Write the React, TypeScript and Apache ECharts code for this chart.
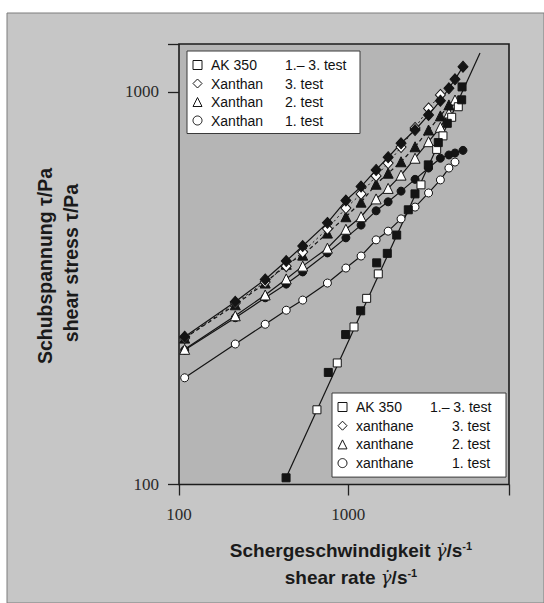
import React, { useEffect, useRef } from "react";
import * as echarts from "echarts";

// ---- data ----
const X_MIN = 100;
const X_MAX = 8900;
const Y_MIN = 100;
const Y_MAX = 1325;
const xTickLabels = ["100", "1000"];
const yTickLabels = ["100", "1000"];

// shear rates used for the xanthan runs (1/s)
const shearRate = [108, 215, 323, 430, 538, 753, 968, 1190, 1460, 1720, 2050, 2480, 2980, 3500, 3930, 4270, 4760];

// xanthan 3. test (diamonds)
const xan3Filled = [238, 292, 333, 371, 405, 464, 529, 574, 633, 682, 740, 800, 874, 950, 1022, 1077, 1160];
const xan3Open = [236, 290, 328, 360, 391, 448, 506, 550, 611, 659, 724, 810, 908, 983];
// xanthan 2. test (triangles)
const xan2Open = [221, 269, 304, 334, 360, 400, 447, 481, 534, 568, 614, 678, 747, 813, 884, 954];
const xan2Filled = [236, 287, 326, 364, 384, 437, 481, 524, 582, 621, 664, 725, 800, 869, 927];
// xanthan 1. test (circles)
const xan1Open = [187, 228, 256, 278, 295, 326, 356, 382, 420, 442, 475, 509, 553, 597, 640, 663];
const xan1Filled = [220, 266, 299, 324, 348, 389, 425, 458, 498, 525, 559, 599, 640, 678, 691, 699, 710];

// AK 350 (squares)
const akOpenRate = [653, 861, 1081, 1284, 1504, 2688, 3328, 3625, 4081, 4465];
const akOpenStress = [155, 204, 252, 298, 344, 580, 714, 773, 862, 917];
const akFilledRate = [429, 762, 965, 1184, 1472, 1700, 1932, 2262, 2477, 2969, 3401, 3844, 4675, 4700];
const akFilledStress = [104, 193, 241, 277, 367, 388, 432, 501, 550, 652, 743, 832, 955, 1030];
// straight fit line for AK 350
const akFitRate = [429, 6000];
const akFitStress = [104, 1257];

// legends
const legendNames = ["AK 350", "Xanthan 3. test", "Xanthan 2. test", "Xanthan 1. test"];
const legendIcons = ["rect", "diamond", "triangle", "circle"];
const legendDe = [["AK 350", "1.– 3. test"], ["Xanthan", "3. test"], ["Xanthan", "2. test"], ["Xanthan", "1. test"]];
const legendEn = [["AK 350", "1.– 3. test"], ["xanthane", "3. test"], ["xanthane", "2. test"], ["xanthane", "1. test"]];

const pair = (xs: number[], ys: number[]) => ys.map((y, i) => [xs[i], y]);

export default function App() {
  const ref = useRef<HTMLDivElement>(null);

  useEffect(() => {
    if (!ref.current) return;
    const chart = echarts.init(ref.current, undefined, { renderer: "svg" });

    const INK = "#141414";
    const openStyle = { color: "#ffffff", borderColor: INK, borderWidth: 1, opacity: 1 };
    const filledStyle = { color: INK, borderColor: INK, borderWidth: 1, opacity: 1 };
    const solid = { color: INK, width: 1.2, type: "solid" as const };
    const dashed = { color: INK, width: 1.2, type: [4, 3] as any };
    const dotted = { color: INK, width: 1, type: [2, 3] as any };

    const lineSeries = (name: string, data: number[][], symbol: string, size: any, item: any, line: any, z = 3) => ({
      name,
      type: "line",
      data,
      symbol,
      symbolSize: size,
      showAllSymbol: true,
      itemStyle: item,
      lineStyle: line,
      emphasis: { disabled: true },
      z,
    });

    const legendData = legendNames.map((n, i) => ({
      name: n,
      icon: legendIcons[i],
      itemStyle: { color: "#ffffff", borderColor: INK, borderWidth: 1 },
    }));

    const legendText = {
      fontFamily: "Liberation Sans",
      fontSize: 14,
      color: "#111",
      lineHeight: 14,
      padding: [0, 0, 0, 4],
    };

    const tickLabel = (v: number) => String(Math.round(v));

    const titleRich = {
      g: { fontFamily: "DejaVu Serif", fontStyle: "italic", fontSize: 18, fill: "#1a1a1a", color: "#1a1a1a" },
      sup: { fontFamily: "Liberation Sans", fontWeight: "bold", fontSize: 11, padding: [0, 0, 9, 0], fill: "#1a1a1a", color: "#1a1a1a" },
    };

    chart.setOption({
      animation: false,
      graphic: [
        {
          type: "rect",
          z: -10,
          shape: { x: 7, y: 13, width: 537, height: 590 },
          style: { fill: "#c6c6c6", stroke: "#7c7c7c", lineWidth: 1 },
          silent: true,
        },
        {
          type: "text",
          x: 45,
          y: 266,
          rotation: Math.PI / 2,
          style: {
            text: "Schubspannung τ/Pa",
            font: 'bold 19.5px "Liberation Sans"',
            fill: "#1a1a1a",
            align: "center",
            verticalAlign: "middle",
            textAlign: "center",
            textVerticalAlign: "middle",
          },
        },
        {
          type: "text",
          x: 71,
          y: 263,
          rotation: Math.PI / 2,
          style: {
            text: "shear stress τ/Pa",
            font: 'bold 19.5px "Liberation Sans"',
            fill: "#1a1a1a",
            align: "center",
            verticalAlign: "middle",
            textAlign: "center",
            textVerticalAlign: "middle",
          },
        },
        {
          type: "text",
          x: 351,
          y: 550,
          style: {
            text: "Schergeschwindigkeit {g|γ̇}/s{sup|-1}",
            font: 'bold 19px "Liberation Sans"',
            fill: "#1a1a1a",
            align: "center",
            verticalAlign: "middle",
            textAlign: "center",
            textVerticalAlign: "middle",
            rich: titleRich,
          },
        },
        {
          type: "text",
          x: 351,
          y: 577,
          style: {
            text: "shear rate {g|γ̇}/s{sup|-1}",
            font: 'bold 19px "Liberation Sans"',
            fill: "#1a1a1a",
            align: "center",
            verticalAlign: "middle",
            textAlign: "center",
            textVerticalAlign: "middle",
            rich: titleRich,
          },
        },
      ],
      grid: {
        left: 179,
        top: 44,
        width: 330,
        height: 440.5,
        show: true,
        backgroundColor: "#b5b5b5",
        borderColor: "#1c1c1c",
        borderWidth: 1.6,
        containLabel: false,
      },
      xAxis: {
        type: "log",
        logBase: 10,
        min: X_MIN,
        max: X_MAX,
        axisLine: { show: false },
        axisTick: { show: true, inside: false, length: 11, lineStyle: { color: "#222", width: 1.3 } },
        axisLabel: {
          formatter: (v: number) => (xTickLabels.includes(tickLabel(v)) ? tickLabel(v) : ""),
          fontFamily: "Liberation Serif",
          fontSize: 17,
          color: "#2a2a2a",
          margin: 21,
        },
        splitLine: { show: false },
      },
      yAxis: {
        type: "log",
        logBase: 10,
        min: Y_MIN,
        max: Y_MAX,
        axisLine: { show: false },
        axisTick: { show: true, inside: false, length: 11, lineStyle: { color: "#222", width: 1.3 } },
        axisLabel: {
          formatter: (v: number) => (yTickLabels.includes(tickLabel(v)) ? tickLabel(v) : ""),
          fontFamily: "Liberation Serif",
          fontSize: 17,
          color: "#2a2a2a",
          margin: 20,
        },
        splitLine: { show: false },
      },
      legend: [
        {
          orient: "vertical",
          left: 187,
          top: 51,
          padding: [7, 5, 6, 5.5],
          itemWidth: 9,
          itemHeight: 9,
          itemGap: 4.5,
          backgroundColor: "#ffffff",
          borderColor: "#3a3a3a",
          borderWidth: 1,
          selectedMode: false,
          data: legendData,
          formatter: (name: string) => {
            const i = legendNames.indexOf(name);
            return `{a|${legendDe[i][0]}}{b|${legendDe[i][1]}}`;
          },
          textStyle: {
            ...legendText,
            rich: {
              a: { width: 74, fontFamily: "Liberation Sans", fontSize: 14, lineHeight: 14, color: "#111" },
              b: { width: 70, fontFamily: "Liberation Sans", fontSize: 14, lineHeight: 14, color: "#111" },
            },
          },
        },
        {
          orient: "vertical",
          left: 332,
          top: 393,
          padding: [7, 6, 7, 5.5],
          itemWidth: 9,
          itemHeight: 9,
          itemGap: 4.7,
          backgroundColor: "#ffffff",
          borderColor: "#3a3a3a",
          borderWidth: 1,
          selectedMode: false,
          data: legendData,
          formatter: (name: string) => {
            const i = legendNames.indexOf(name);
            return i === 0
              ? `{a1|${legendEn[i][0]}}{b1|${legendEn[i][1]}}`
              : `{a|${legendEn[i][0]}}{b|${legendEn[i][1]}}`;
          },
          textStyle: {
            ...legendText,
            rich: {
              a: { width: 96, fontFamily: "Liberation Sans", fontSize: 14, lineHeight: 14, color: "#111" },
              b: { width: 48, fontFamily: "Liberation Sans", fontSize: 14, lineHeight: 14, color: "#111" },
              a1: { width: 74, fontFamily: "Liberation Sans", fontSize: 14, lineHeight: 14, color: "#111" },
              b1: { width: 70, fontFamily: "Liberation Sans", fontSize: 14, lineHeight: 14, color: "#111" },
            },
          },
        },
      ],
      series: [
        lineSeries("AK fit", pair(akFitRate, akFitStress), "none", 0, filledStyle, solid, 2),
        lineSeries("Xanthan 1. test", pair(shearRate, xan1Open), "circle", 8, openStyle, solid),
        lineSeries("xan1 filled", pair(shearRate, xan1Filled), "circle", 8, filledStyle, solid),
        lineSeries("Xanthan 2. test", pair(shearRate, xan2Open), "triangle", 10, openStyle, solid),
        lineSeries("xan2 filled", pair(shearRate, xan2Filled), "triangle", 10, filledStyle, dashed),
        lineSeries("Xanthan 3. test", pair(shearRate, xan3Open), "diamond", [10, 11], openStyle, dotted),
        lineSeries("xan3 filled", pair(shearRate, xan3Filled), "diamond", [10, 11], filledStyle, solid),
        {
          name: "AK 350",
          type: "scatter",
          data: pair(akOpenRate, akOpenStress),
          symbol: "rect",
          symbolSize: 8,
          itemStyle: openStyle,
          emphasis: { disabled: true },
          z: 4,
        },
        {
          name: "AK 350 filled",
          type: "scatter",
          data: pair(akFilledRate, akFilledStress),
          symbol: "rect",
          symbolSize: 8,
          itemStyle: filledStyle,
          emphasis: { disabled: true },
          z: 4,
        },
      ],
    });

    return () => chart.dispose();
  }, []);

  return (
    <div
      ref={ref}
      style={{ position: "absolute", left: 0, top: 0, width: 544, height: 603 }}
    />
  );
}
